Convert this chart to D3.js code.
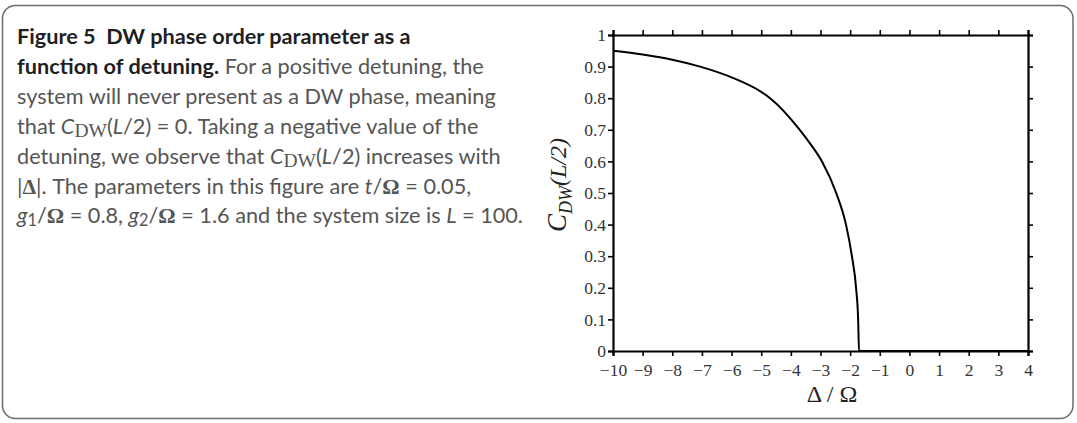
<!DOCTYPE html>
<html>
<head>
<meta charset="utf-8">
<script src="https://cdn.jsdelivr.net/npm/d3@7"></script>
<style>
  body { margin: 0; background: #fff; }
  svg { display: block; }
</style>
</head>
<body>
<div id="chart"></div>
<script>
// curve: C_DW(L/2) vs detuning Δ/Ω
const delta = [-10, -9, -8, -7.06, -6, -5, -4.7, -3.7, -3.3, -2.95, -2.47, -2.14, -1.94, -1.80, -1.73, -1.70, 0, 4]
const cdw   = [0.950, 0.938, 0.922, 0.900, 0.866, 0.820, 0.800, 0.700, 0.650, 0.600, 0.500, 0.400, 0.300, 0.200, 0.100, 0, 0, 0]

const xTicks = d3.range(-10, 5, 1)
const yTicks = d3.range(0, 1.01, 0.1)

const W = 1077, H = 423
const svg = d3.select('#chart').append('svg')
  .attr('width', W).attr('height', H)

// panel border
svg.append('rect')
  .attr('x', 2.5).attr('y', 5.5)
  .attr('width', 1070.5).attr('height', 413)
  .attr('rx', 13).attr('ry', 13)
  .attr('fill', 'none').attr('stroke', '#6b6b6b').attr('stroke-width', 1.5)

// ---- caption ----
const sans = "Lato, 'Open Sans', sans-serif"
const serif = "'Liberation Serif', 'DejaVu Serif', serif"
const cap = svg.append('text')
  .style('font-family', sans)
  .attr('fill', '#555')

const lines = [
  [['Figure 5\u00a0\u00a0DW phase order parameter as a', 'b']],
  [['function of detuning.', 'b'], [' For a positive detuning, the', '']],
  [['system will never present as a DW phase, meaning', '']],
  [['that ', ''], ['C', 'i'], ['DW', 'sub'], ['(', ''], ['L', 'i'], ['/2) = 0. Taking a negative value of the', '']],
  [['detuning, we observe that ', ''], ['C', 'i'], ['DW', 'sub'], ['(', ''], ['L', 'i'], ['/2) increases with', '']],
  [['|', ''], ['Δ', 'g'], ['|. The parameters in this figure are ', ''], ['t', 'i'], ['/', ''], ['Ω', 'g'], [' = 0.05,', '']],
  [['g', 'i'], ['1', 'n'], ['/', ''], ['Ω', 'g'], [' = 0.8, ', ''], ['g', 'i'], ['2', 'n'], ['/', ''], ['Ω', 'g'], [' = 1.6 and the system size is ', ''], ['L', 'i'], [' = 100.', '']]
]
const top0 = 44, lineGap = 29.9
lines.forEach((parts, i) => {
  parts.forEach((p, j) => {
    const t = cap.append('tspan').text(p[0])
    if (j === 0) t.attr('x', 17).attr('y', top0 + i * lineGap)
    if (p[1] === 'b') t.attr('font-weight', 'bold').attr('fill', '#1f1f1f')
    if (p[1] === 'i') t.attr('font-style', 'italic')
    if (p[1] === 'sub') t.style('font-family', serif).attr('font-size', '0.9em').attr('dy', 3)
    if (p[1] === 'n') t.attr('font-size', '0.75em').attr('dy', 3)
    if (p[1] === 'g') t.style('font-family', serif).attr('font-weight', 'bold')
    // return baseline after subscripts
    const prev = parts[j - 1]
    if (prev && (prev[1] === 'sub' || prev[1] === 'n')) t.attr('dy', -3)
  })
})
// fit caption width to the reference (third line spans ~479px)
cap.attr('font-size', 20)
const probe = cap.selectAll('tspan').filter((d, i) => i === 3).node()
const fs = 20 * 479 / probe.getComputedTextLength()
cap.attr('font-size', fs.toFixed(2))

// ---- plot ----
const margin = { left: 613, top: 35, right: W - 1028, bottom: H - 351 }
const pw = W - margin.left - margin.right
const ph = H - margin.top - margin.bottom

const x = d3.scaleLinear().domain([-10, 4]).range([0, pw])
const y = d3.scaleLinear().domain([0, 1]).range([ph, 0])

const g = svg.append('g').attr('transform', `translate(${margin.left},${margin.top})`)

const fmtX = d => (d < 0 ? '\u2212' + Math.abs(d) : String(d))
const fmtY = d => (d === 0 ? '0' : d >= 0.999 ? '1' : d3.format('.1f')(d))

const axB = g.append('g').attr('transform', `translate(0,${ph})`)
  .call(d3.axisBottom(x).tickValues(xTicks).tickFormat(fmtX).tickSize(5).tickPadding(8))
const axT = g.append('g')
  .call(d3.axisTop(x).tickValues(xTicks).tickFormat('').tickSize(5))
const axL = g.append('g')
  .call(d3.axisLeft(y).tickValues(yTicks).tickFormat(fmtY).tickSize(5).tickPadding(2))
const axR = g.append('g').attr('transform', `translate(${pw},0)`)
  .call(d3.axisRight(y).tickValues(yTicks).tickFormat('').tickSize(5))

;[axB, axT, axL, axR].forEach(a => {
  a.attr('font-family', serif).attr('font-size', 17.5)
  a.select('.domain').attr('stroke', '#000').attr('stroke-width', 2.2)
  a.selectAll('.tick line').attr('stroke', '#000').attr('stroke-width', 1.6)
  a.selectAll('.tick text').attr('fill', '#333')
})

const line = d3.line()
  .x((d, i) => x(delta[i]))
  .y((d, i) => y(cdw[i]))
  .curve(d3.curveMonotoneX)

g.append('path')
  .datum(cdw)
  .attr('d', line)
  .attr('fill', 'none')
  .attr('stroke', '#000')
  .attr('stroke-width', 2)

// axis labels
svg.append('text')
  .attr('x', 832).attr('y', 402)
  .attr('text-anchor', 'middle')
  .style('font-family', serif).style('font-size', '24px').attr('fill', '#222')
  .text('\u0394 / \u03a9')

const yl = svg.append('text')
  .attr('transform', `translate(566,185) rotate(-90)`)
  .attr('text-anchor', 'middle')
  .style('font-family', serif).style('font-style', 'italic').attr('fill', '#222')
yl.append('tspan').style('font-size', '27px').text('C')
yl.append('tspan').style('font-size', '18px').attr('dy', 6).text('DW')
yl.append('tspan').style('font-size', '24px').attr('dy', -6).text('(L/2)')
</script>
</body>
</html>
